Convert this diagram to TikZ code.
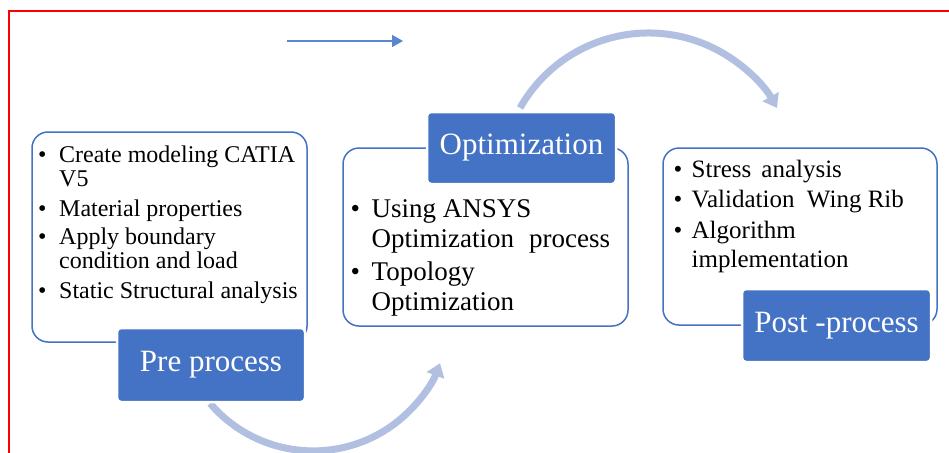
\documentclass[tikz,border=0pt]{standalone}
\usepackage{fontspec}
\setmainfont{Liberation Serif}
\usetikzlibrary{arrows.meta}
\definecolor{boxblue}{HTML}{4472C4}
\definecolor{arcblue}{HTML}{B1BFE1}
\definecolor{linkblue}{HTML}{5A85D0}
\definecolor{framered}{HTML}{FF0000}
\newcommand{\bul}[1]{\makebox[#1][l]{\textbullet}}
\tikzset{
  panel/.style={draw=boxblue, line width=1.5pt, rounded corners=16pt, fill=white, inner sep=0pt},
  tagbox/.style={fill=boxblue, draw=white, line width=2.5pt, rounded corners=4pt, text=white,
    font=\fontsize{31}{31}\selectfont, inner sep=0pt},
  bodytext/.style={anchor=base west, inner sep=0pt, text=black},
  cyc/.style={draw=arcblue, line width=7pt, -{Triangle[width=18pt,length=13pt]}},
  hint/.style={draw=linkblue, line width=1.5pt, -{Triangle[width=12pt,length=11pt]}},
}
\begin{document}
\begin{tikzpicture}[x=1pt,y=-1pt]
\useasboundingbox (0,0) rectangle (949,452);
\clip (0,0) rectangle (949,452);
\fill[white] (0,0) rectangle (949,452);
% red frame
\draw[framered, line width=2pt] (9,11) rectangle (990,490);

% small arrow at top
\coordinate (hs) at (287,41);
\coordinate (he) at (403,41);
\draw[hint] (hs) -- (he);

% cycle arcs
\coordinate (a1s) at ([shift={(648.5,180.6)}]209.5:147.6);
\draw[cyc] (a1s) arc[start angle=209.5, end angle=330.5, radius=147.6];
\coordinate (a2s) at ([shift={(313.2,315.3)}]139.5:135.6);
\draw[cyc] (a2s) arc[start angle=139.5, end angle=20.7, radius=135.6];

% panels
\node[panel, minimum width=275, minimum height=210] (prebox) at (169.5,237) {};
\node[panel, minimum width=285, minimum height=178] (optbox) at (485.5,237) {};
\node[panel, minimum width=274, minimum height=177] (postbox) at (800,236.5) {};

% tags
\node[tagbox, minimum width=188, minimum height=74] (pretag) at (211,365) {Pre process};
\node[tagbox, minimum width=189, minimum height=72] (opttag) at (521.5,148) {Optimization};
\node[tagbox, minimum width=189, minimum height=73] (posttag) at (836.5,325.5) {Post -process};

% body texts
\node[bodytext, font=\fontsize{24}{24}\selectfont] (pretext) at (38,162) {%
\begin{tabular}[t]{@{}l@{}l@{}}
\bul{21pt} & Create modeling CATIA\\
 & V5\\[6pt]
\bul{21pt} & Material properties\\[4pt]
\bul{21pt} & Apply boundary\\
 & condition and load\\[6pt]
\bul{21pt} & Static Structural analysis
\end{tabular}};

\node[bodytext, font=\fontsize{27}{30}\selectfont] (opttext) at (350.5,217) {%
\begin{tabular}[t]{@{}l@{}l@{}}
\bul{21pt} & Using ANSYS\\
 & Optimization\hspace{0.55em}process\\[3pt]
\bul{21pt} & Topology\\
 & Optimization
\end{tabular}};

\node[bodytext, font=\fontsize{25}{29.5}\selectfont] (posttext) at (673.5,177) {%
\begin{tabular}[t]{@{}l@{}l@{}}
\bul{18pt} & Stress\hspace{0.4em}analysis\\[1pt]
\bul{18pt} & Validation\hspace{0.5em}Wing Rib\\[1pt]
\bul{18pt} & Algorithm\\
 & implementation
\end{tabular}};
\end{tikzpicture}
\end{document}
